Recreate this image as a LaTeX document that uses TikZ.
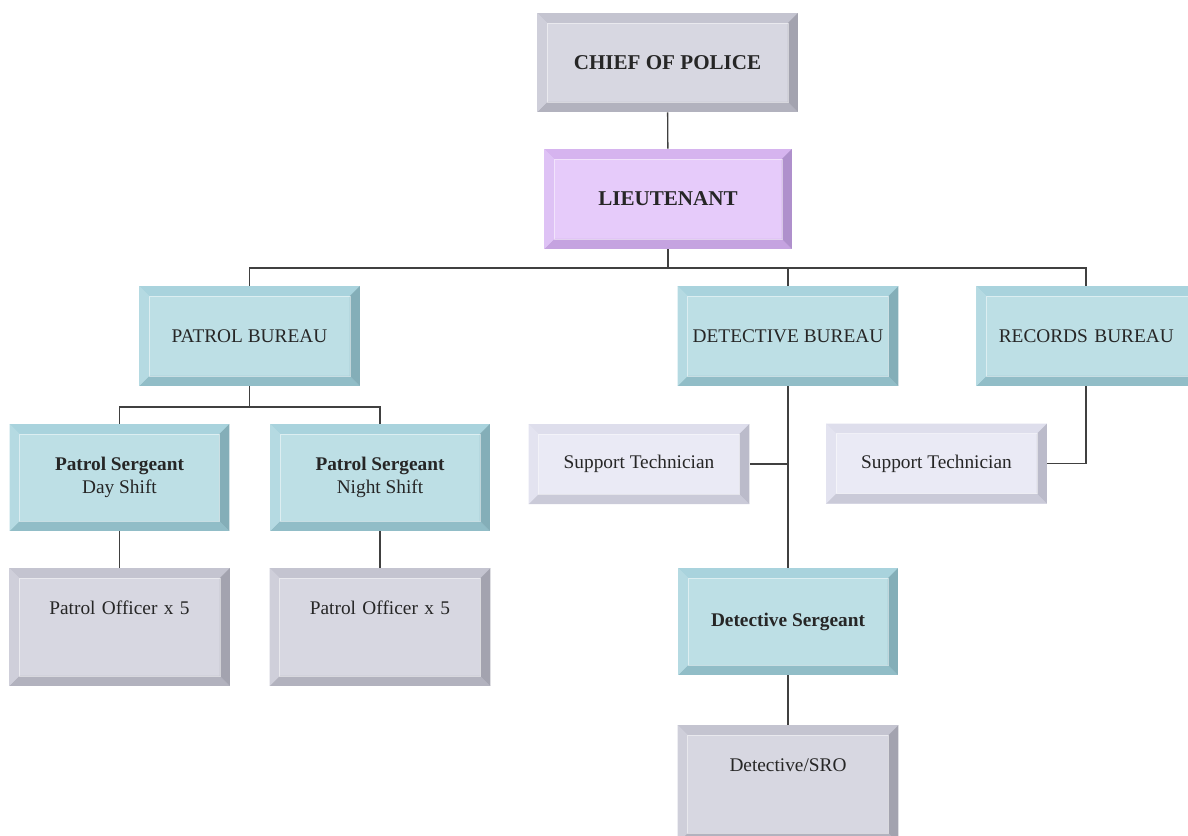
\documentclass[tikz,border=0pt]{standalone}
\usepackage{fontspec}
\setmainfont{Liberation Serif}
\usetikzlibrary{positioning,calc}

\definecolor{grayface}{HTML}{D7D7E1}
\definecolor{graytop}{HTML}{C4C4D0}
\definecolor{grayleft}{HTML}{CFCFDA}
\definecolor{grayright}{HTML}{A3A3AF}
\definecolor{graybot}{HTML}{B2B2BE}
\definecolor{purpface}{HTML}{E6CBFA}
\definecolor{purptop}{HTML}{D6B4EF}
\definecolor{purpleft}{HTML}{DEC2F5}
\definecolor{purpright}{HTML}{AF90CC}
\definecolor{purpbot}{HTML}{C5A3E0}
\definecolor{tealface}{HTML}{BDDFE5}
\definecolor{tealtop}{HTML}{A9D3DD}
\definecolor{tealleft}{HTML}{B5DAE2}
\definecolor{tealright}{HTML}{84AEB8}
\definecolor{tealbot}{HTML}{91BDC7}
\definecolor{lavface}{HTML}{EAEAF5}
\definecolor{lavtop}{HTML}{DEDEEC}
\definecolor{lavleft}{HTML}{E3E3F0}
\definecolor{lavright}{HTML}{BBBBCA}
\definecolor{lavbot}{HTML}{CACAD8}

\tikzset{
  conn/.style={draw=black!75,line width=0.8pt},
  bevel/.style n args={5}{draw=none,fill=#1,inner sep=0pt,align=center,
    text=black!85,font=\fontsize{11}{13}\selectfont,
    path picture={
      \fill[#2] (path picture bounding box.north west) -- (path picture bounding box.north east)
        -- ([xshift=-0.2cm,yshift=-0.2cm]path picture bounding box.north east)
        -- ([xshift=0.2cm,yshift=-0.2cm]path picture bounding box.north west) -- cycle;
      \fill[#5] (path picture bounding box.south west) -- (path picture bounding box.south east)
        -- ([xshift=-0.2cm,yshift=0.2cm]path picture bounding box.south east)
        -- ([xshift=0.2cm,yshift=0.2cm]path picture bounding box.south west) -- cycle;
      \fill[#3] (path picture bounding box.north west) -- (path picture bounding box.south west)
        -- ([xshift=0.2cm,yshift=0.2cm]path picture bounding box.south west)
        -- ([xshift=0.2cm,yshift=-0.2cm]path picture bounding box.north west) -- cycle;
      \fill[#4] (path picture bounding box.north east) -- (path picture bounding box.south east)
        -- ([xshift=-0.2cm,yshift=0.2cm]path picture bounding box.south east)
        -- ([xshift=-0.2cm,yshift=-0.2cm]path picture bounding box.north east) -- cycle;
      \draw[white,opacity=0.5,line width=0.5pt]
        ([xshift=0.2cm,yshift=0.2cm]path picture bounding box.south west)
        rectangle ([xshift=-0.2cm,yshift=-0.2cm]path picture bounding box.north east);
    }},
  graybox/.style={bevel={grayface}{graytop}{grayleft}{grayright}{graybot}},
  purpbox/.style={bevel={purpface}{purptop}{purpleft}{purpright}{purpbot}},
  tealbox/.style={bevel={tealface}{tealtop}{tealleft}{tealright}{tealbot}},
  lavbox/.style={bevel={lavface}{lavtop}{lavleft}{lavright}{lavbot}},
  % unit box sizes
  wide/.style={minimum width=4.42cm,minimum height=2cm},
  tall/.style={minimum width=4.4cm,minimum height=2.14cm},
  low/.style={minimum width=4.42cm,minimum height=1.6cm},
  toptext/.style={text width=4.42cm,text height=0.92cm,text depth=1.44cm}
}

\begin{document}
\begin{tikzpicture}[x=0.02cm,y=-0.02cm]
  \useasboundingbox (0,0) rectangle (1188,836); % picture frame

  % top of the chart
  \node[graybox,minimum width=5.22cm,minimum height=1.98cm,font=\fontsize{12}{14}\selectfont\bfseries] (chief) at (667.5,62.5) {CHIEF OF POLICE};
  \node[purpbox,minimum width=4.96cm,minimum height=2cm,font=\fontsize{12}{14}\selectfont\bfseries] (lieut) at (668,199) {LIEUTENANT};

  % bureaus
  \node[tealbox,wide] (patrol) at (249.5,336) {PATROL BUREAU};
  \node[tealbox,wide] (detect) at (788,336) {DETECTIVE BUREAU};
  \node[tealbox,wide,minimum width=4.7cm,anchor=west,text width=4.2cm] (records) at (976,336) {\hspace*{-0.3cm}RECORDS BUREAU}; % runs off the right edge

  % patrol side
  \node[tealbox,tall] (sgtday) at (119.5,477.5) {\textbf{Patrol Sergeant}\\Day Shift};
  \node[tealbox,tall] (sgtnight) at (380,477.5) {\textbf{Patrol Sergeant}\\Night Shift};
  \node[graybox,toptext] (offday) at (119.5,627) {Patrol Officer x 5};
  \node[graybox,toptext] (offnight) at (380,627) {Patrol Officer x 5};

  % detective and records side
  \node[lavbox,low] (supleft) at (639,464) {Support Technician};
  \node[lavbox,low] (supright) at (936.5,463.5) {Support Technician};
  \node[tealbox,tall] (detsgt) at (788,621.5) {\textbf{Detective Sergeant}};
  \node[graybox,toptext] (sro) at (788,784) {Detective/SRO};

  \coordinate (bus) at (668,268); % main branch line
  \coordinate (psplit) at (249,407); % patrol branch line
  \coordinate (rtop) at ($(records.north west)+(110,0)$);
  \coordinate (rbot) at ($(records.south west)+(110,0)$);

  \draw[conn] (chief) -- (lieut);
  \draw[conn] (lieut.south) -- (lieut.south |- bus);
  \draw[conn] (patrol.north) |- (rtop |- bus) -- (rtop);
  \draw[conn] (detect.north) -- (detect.north |- bus);

  \draw[conn] (patrol.south) -- (patrol.south |- psplit);
  \draw[conn] (sgtday.north) |- (sgtnight.north |- psplit) -- (sgtnight.north);
  \draw[conn] (sgtday.south) -- (offday.north);
  \draw[conn] (sgtnight.south) -- (offnight.north);

  \draw[conn] (detect.south) -- (detsgt.north);
  \draw[conn] (supleft.east) -- (supleft.east -| detect.south);
  \draw[conn] (rbot) |- (supright.east);
  \draw[conn] (detsgt.south) -- (sro.north);
\end{tikzpicture}
\end{document}
